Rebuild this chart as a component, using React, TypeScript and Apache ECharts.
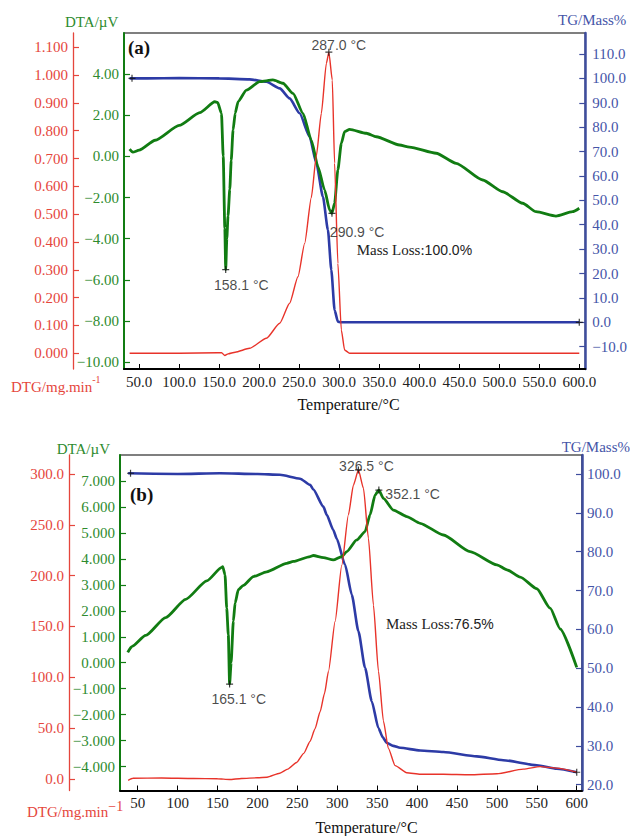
import React, { useEffect, useRef } from "react";
import * as echarts from "echarts";

// ---------------- Panel (a) data ----------------
const tgTempA = [38, 60, 100, 150, 188, 209, 225.6, 238, 250.5, 263, 271.4, 279.6, 285.9, 290.1, 294.2, 298.3, 302, 350, 450, 550, 600];
const tgValA = [100, 100, 100.1, 100, 99.6, 98.6, 95.9, 91.8, 85.7, 76.1, 65.2, 51.5, 37.8, 21.4, 5.0, 0.3, 0, 0, 0, 0, 0];

const dtaTempA = [38, 42, 50, 70, 100, 125.7, 144.5, 148, 152.8, 155, 157, 158.1, 159.5, 161, 163.2, 165, 167.3, 170, 173.6, 184, 200.6, 217.2, 229.7, 242.2, 254.7, 265.1, 273.4, 281.7, 288, 290.9, 294.2, 298.3, 302.6, 306.7, 313, 333.8, 346.3, 375.4, 387.8, 421.1, 446.1, 479.3, 504.3, 529.3, 545.9, 570.9, 591.6, 600];
const dtaValA = [0.35, 0.2, 0.3, 0.78, 1.5, 2.12, 2.65, 2.62, 2.09, 0.0, -3.5, -5.5, -4.0, -2.9, -1.6, -0.2, 1.28, 2.1, 2.66, 3.22, 3.63, 3.71, 3.55, 3.06, 2.09, 0.79, -0.5, -1.63, -2.61, -2.77, -2.28, -0.66, 0.63, 1.2, 1.31, 1.12, 0.95, 0.55, 0.45, 0.15, -0.34, -1.15, -1.72, -2.28, -2.69, -2.9, -2.69, -2.52];

const dtgTempA = [38, 100, 148, 153, 157, 161, 170, 188, 209, 225.6, 238, 248.4, 256.8, 265.1, 271.4, 277.6, 283.9, 287, 291.3, 294.2, 298.3, 302.6, 306.7, 313, 400, 500, 600];
const dtgValA = [0, 0, 0.002, 0.002, -0.008, -0.002, 0.004, 0.018, 0.054, 0.108, 0.18, 0.275, 0.395, 0.56, 0.71, 0.862, 1.042, 1.082, 0.982, 0.683, 0.323, 0.084, 0.012, 0, 0, 0, 0];

// peaks of panel (a)
const peakDtgA = [[287.0, 1.082]];
const peakDtaA = [[158.1, -5.5], [290.9, -2.77]];
const tgEndsA = [[41, 100], [600, 0]];
const massLossA = "100.0%";

// ---------------- Panel (b) data ----------------
const tgTempB = [38, 100, 153, 200, 228, 253.4, 266, 270, 282.6, 286.8, 295, 299.4, 309.8, 318.2, 326.5, 334.8, 343.2, 351.5, 357, 362, 370, 378.7, 403.8, 433, 474.8, 508, 550, 575, 600];
const tgValB = [100.2, 100, 100.2, 100, 99.8, 98.8, 97.2, 96, 91.6, 89.5, 85.6, 83.3, 76.6, 68.9, 59.5, 50.1, 41.5, 34.6, 32.2, 30.8, 30.0, 29.5, 28.8, 28.4, 27.3, 26.3, 25.0, 24.1, 23.2];

const dtaTempB = [37.5, 42.5, 60, 85, 110, 136.5, 155.3, 156.5, 159.4, 161.5, 163.5, 165.1, 167, 169.8, 172, 176, 182.3, 194.9, 211.6, 236.7, 245, 266, 270, 282.6, 295, 305.6, 311.9, 324.4, 334.8, 341, 347.4, 352.1, 357.8, 370.3, 387.1, 403.8, 433, 466.4, 500, 512.5, 529.2, 550, 566.7, 579.3, 600];
const dtaValB = [0.4, 0.62, 1.05, 1.74, 2.44, 3.15, 3.67, 3.7, 3.38, 2.1, 1.08, -0.82, 0.0, 1.6, 2.3, 2.81, 2.98, 3.32, 3.5, 3.83, 3.9, 4.09, 4.13, 4.05, 3.96, 4.09, 4.28, 4.73, 5.05, 5.69, 6.46, 6.65, 6.33, 5.88, 5.63, 5.37, 4.92, 4.28, 3.77, 3.58, 3.3, 2.85, 2.1, 1.3, -0.18];

const dtgTempB = [38, 44, 80, 120, 150, 165, 180, 200, 212, 228, 238, 249, 258, 266, 272, 278.5, 284, 289, 297.3, 305.6, 314, 320.2, 326.5, 332.8, 339, 345.3, 351.6, 357.8, 364, 372.5, 387, 404, 433, 466, 500, 533, 554, 575, 600];
const dtgValB = [-1.5, 0.5, 0.8, 0.3, 0.0, -0.7, 0.3, 1.0, 1.6, 5.5, 9.5, 16, 25, 37, 49, 66, 84, 106, 155, 210, 260, 289, 304, 286, 237, 171, 106, 57, 30, 13, 6, 4.5, 4.5, 4.0, 5.0, 9.5, 12, 10.5, 6.5];

const peakDtgB = [[326.5, 304]];
const peakDtaB = [[352.1, 6.65], [165.1, -0.82]];
const tgEndsB = [[41, 100.2], [600, 23.2]];
const massLossB = "76.5%";

// ---------------- tick labels ----------------
const xTicks = [50, 100, 150, 200, 250, 300, 350, 400, 450, 500, 550, 600];
const dtgTicksA = [0, 0.1, 0.2, 0.3, 0.4, 0.5, 0.6, 0.7, 0.8, 0.9, 1.0, 1.1];
const dtaTicksA = [-10, -8, -6, -4, -2, 0, 2, 4];
const tgTicksA = [-10, 0, 10, 20, 30, 40, 50, 60, 70, 80, 90, 100, 110];
const dtgTicksB = [0, 50, 100, 150, 200, 250, 300];
const dtaTicksB = [-4, -3, -2, -1, 0, 1, 2, 3, 4, 5, 6, 7];
const tgTicksB = [20, 30, 40, 50, 60, 70, 80, 90, 100];

const SERIF = '"Liberation Serif", "Times New Roman", serif';
const SANS = '"Liberation Sans", Arial, sans-serif';
const RED = "#e5463c";
const RED_LINE = "#e8332a";
const GREEN = "#2e8b2e";
const GREEN_LINE = "#117c12";
const BLUE = "#4555a8";
const BLUE_LINE = "#2d3ba6";

const zip = (t: number[], v: number[]) => t.map((x, i) => [x, v[i]]);
const fmt = (d: number) => (v: number) => {
  const s = Math.abs(v).toFixed(d);
  return v < -1e-9 ? "\u2212" + s : s;
};

function yAx(gridIndex: number, position: string, offset: number, min: number, max: number, ticks: number[], dec: number, color: string, lineColor: string, lineWidth: number, margin: number) {
  return {
    type: "value",
    gridIndex,
    position,
    offset,
    min,
    max,
    axisLine: { show: true, onZero: false, lineStyle: { color: lineColor, width: lineWidth } },
    axisTick: { show: true, inside: true, length: 6, customValues: ticks, lineStyle: { color: lineColor, width: 1.2 } },
    axisLabel: { show: true, customValues: ticks, formatter: fmt(dec), color, fontFamily: SERIF, fontSize: 15, margin },
    splitLine: { show: false },
  };
}

function xAx(gridIndex: number, min: number, max: number, dec: number) {
  return {
    type: "value",
    gridIndex,
    min,
    max,
    axisLine: { show: true, onZero: false, lineStyle: { color: "#000", width: 2 } },
    axisTick: { show: true, inside: true, length: 5, customValues: xTicks, lineStyle: { color: "#000", width: 1 } },
    axisLabel: { show: true, customValues: xTicks, formatter: (v: number) => v.toFixed(dec), color: "#222", fontFamily: SERIF, fontSize: 15, margin: 5 },
    splitLine: { show: false },
  };
}

const line = (xi: number, yi: number, t: number[], v: number[], color: string, width: number, z: number) => ({
  type: "line",
  xAxisIndex: xi,
  yAxisIndex: yi,
  data: zip(t, v),
  symbol: "none",
  smooth: 0.2,
  smoothMonotone: "x",
  lineStyle: { color, width },
  z,
  silent: true,
});

const PLUS = "path://M0,5L10,5M5,0L5,10";
const marks = (xi: number, yi: number, pts: number[][], texts: string[], offsets: number[][]) => ({
  type: "scatter",
  xAxisIndex: xi,
  yAxisIndex: yi,
  symbol: PLUS,
  symbolSize: 7,
  itemStyle: { color: "transparent", borderColor: "#111", borderWidth: 1.2 },
  z: 5,
  data: pts.map((p, i) => ({
    value: p,
    label: {
      show: texts[i] !== "",
      formatter: texts[i],
      position: "inside",
      offset: offsets[i],
      fontFamily: SANS,
      fontSize: 14,
      color: "#1a1a1a",
    },
  })),
});

function label(x: number, y: number, text: string, fill: string, size: number, align = "left", weight = "normal") {
  return {
    type: "text",
    x,
    y,
    silent: true,
    style: { text, fill, font: `${weight} ${size}px ${SERIF}`, align, verticalAlign: "middle" },
  };
}

function richLabel(x: number, y: number, text: string, fill: string, rich: any) {
  return {
    type: "text",
    x,
    y,
    silent: true,
    style: { text, fill, rich, verticalAlign: "middle", align: "left" },
  };
}

export default function App() {
  const ref = useRef<HTMLDivElement>(null);
  useEffect(() => {
    if (!ref.current) return;
    const chart = echarts.init(ref.current, null, { renderer: "svg" });
    const option = {
      animation: false,
      backgroundColor: "#fff",
      grid: [
        { left: 124, top: 33, width: 462, height: 336, show: true, borderColor: "#000", borderWidth: 1.2, backgroundColor: "transparent" },
        { left: 120, top: 455, width: 462, height: 335.5, show: true, borderColor: "#000", borderWidth: 1.2, backgroundColor: "transparent" },
      ],
      xAxis: [xAx(0, 31, 607.5, 1), xAx(1, 27.8, 606.6, 0)],
      yAxis: [
        yAx(0, "left", 51, -0.0564, 1.151, dtgTicksA, 3, RED, RED, 1.3, 5),
        yAx(0, "left", 0, -10.33, 5.99, dtaTicksA, 2, GREEN, GREEN_LINE, 2, 5),
        yAx(0, "right", 0, -19.14, 118.6, tgTicksA, 1, BLUE, "#3e4d9e", 2.5, 7),
        yAx(1, "left", 51, -11.5, 318.7, dtgTicksB, 1, RED, RED, 1.3, 5),
        yAx(1, "left", 0, -4.92, 8.0, dtaTicksB, 3, GREEN, GREEN_LINE, 2, 5),
        yAx(1, "right", 0, 18.5, 104.9, tgTicksB, 1, BLUE, "#3e4d9e", 2.5, 5),
      ],
      series: [
        line(0, 0, dtgTempA, dtgValA, RED_LINE, 1.4, 3),
        line(0, 2, tgTempA, tgValA, BLUE_LINE, 2.6, 2),
        line(0, 1, dtaTempA, dtaValA, GREEN_LINE, 2.8, 2),
        marks(0, 0, peakDtgA, ["287.0 \u00b0C"], [[10, -7]]),
        marks(0, 1, peakDtaA, ["158.1 \u00b0C", "290.9 \u00b0C"], [[15.6, 15.4], [25.2, 18.4]]),
        marks(0, 2, tgEndsA, ["", ""], [[0, 0], [0, 0]]),
        line(1, 3, dtgTempB, dtgValB, RED_LINE, 1.4, 3),
        line(1, 5, tgTempB, tgValB, BLUE_LINE, 2.6, 2),
        line(1, 4, dtaTempB, dtaValB, GREEN_LINE, 2.8, 2),
        marks(1, 3, peakDtgB, ["326.5 \u00b0C"], [[8, -4.3]]),
        marks(1, 4, peakDtaB, ["352.1 \u00b0C", "165.1 \u00b0C"], [[33.8, 4.2], [9.1, 15.2]]),
        marks(1, 5, tgEndsB, ["", ""], [[0, 0], [0, 0]]),
      ],
      graphic: [
        label(128, 47.5, "(a)", "#111", 19, "left", "bold"),
        label(130, 494, "(b)", "#111", 19, "left", "bold"),
        label(65, 21.7, "DTA/\u00b5V", GREEN, 15),
        label(56.7, 449, "DTA/\u00b5V", GREEN, 15),
        label(558, 20, "TG/Mass%", BLUE, 15),
        label(561.7, 446.7, "TG/Mass%", BLUE, 15),
        label(348.5, 404, "Temperature/\u00b0C", "#111", 16, "center"),
        label(366.5, 827.7, "Temperature/\u00b0C", "#111", 16, "center"),
        richLabel(11, 384.3, "{n|DTG/mg.min}{s|-1}", RED, {
          n: { fontFamily: SERIF, fontSize: 15, fill: RED, lineHeight: 20, verticalAlign: "bottom" },
          s: { fontFamily: SERIF, fontSize: 10, fill: RED, lineHeight: 20, verticalAlign: "top" },
        }),
        richLabel(27, 809.3, "{n|DTG/mg.min}{s|\u22121}", RED, {
          n: { fontFamily: SERIF, fontSize: 15, fill: RED, lineHeight: 20, verticalAlign: "bottom" },
          s: { fontFamily: SERIF, fontSize: 14, fill: RED, lineHeight: 20, verticalAlign: "top" },
        }),
        richLabel(356.7, 250, "{m|Mass Loss:}{v|" + massLossA + "}", "#222", {
          m: { fontFamily: SERIF, fontSize: 15, fill: "#222" },
          v: { fontFamily: SANS, fontSize: 14, fill: "#222" },
        }),
        richLabel(386, 624, "{m|Mass Loss:}{v|" + massLossB + "}", "#222", {
          m: { fontFamily: SERIF, fontSize: 15, fill: "#222" },
          v: { fontFamily: SANS, fontSize: 14, fill: "#222" },
        }),
      ],
    };
    chart.setOption(option as any);
    return () => chart.dispose();
  }, []);
  return <div ref={ref} style={{ position: "fixed", left: 0, top: 0, width: 630, height: 836, background: "#fff" }} />;
}
